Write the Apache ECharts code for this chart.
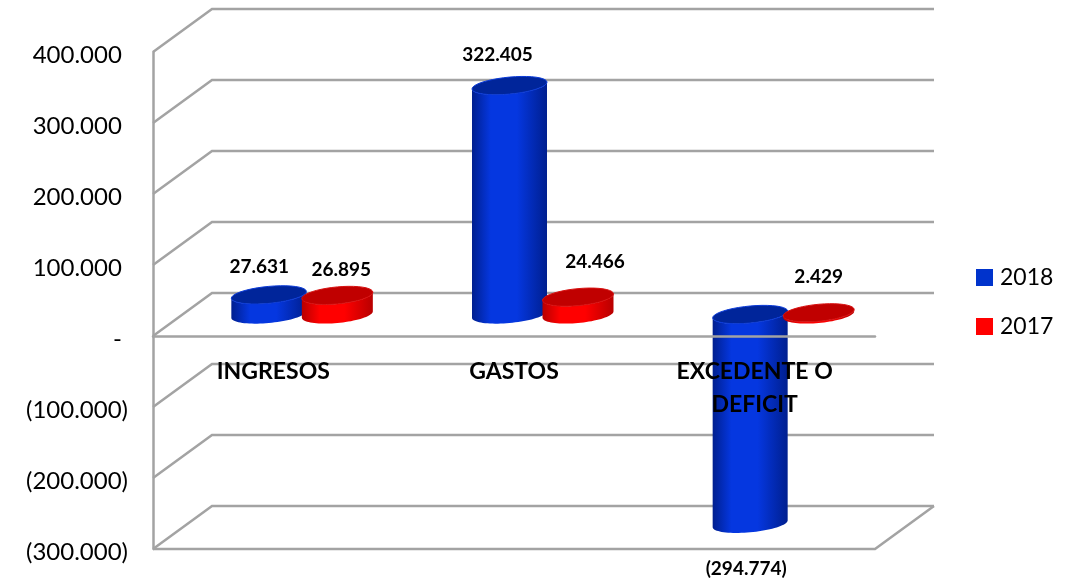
<!DOCTYPE html>
<html><head><meta charset="utf-8">
<style>html,body{margin:0;padding:0;background:#fff}#c{width:1069px;height:580px}</style>
<script src="https://cdn.jsdelivr.net/npm/echarts@6/dist/echarts.min.js"></script>
</head><body><div id="c"></div>
<script>
const categories = ['INGRESOS', 'GASTOS', 'EXCEDENTE O\nDEFICIT'];
const values2018 = [27631, 322405, -294774];
const values2017 = [26895, 24466, 2429];
const tickValues = [-300000, -200000, -100000, 0, 100000, 200000, 300000, 400000];
const tickLabels = {'-300000':'(300.000)','-200000':'(200.000)','-100000':'(100.000)','0':'-\u00a0','100000':'100.000\u00a0','200000':'200.000\u00a0','300000':'300.000\u00a0','400000':'400.000\u00a0'};

// layout of the oblique projection
const DEPTH_X = 59, DEPTH_Y = -43, SHEAR = 0.09, CAP_RY = 8.5;
const GRID_COLOR = '#a3a3a3', FONT = 'Lato, "Open Sans", sans-serif';
const look2018 = {off:-34, w:75, edge:'#001f8f', mid:'#0537e0', cap:'#00259a', capEdge:'#0a3ad8',
  lab:[[-9.5,-28],[-12,-31],[-4,45]]};
const look2017 = {off:34.5, w:71, edge:'#b80000', mid:'#ff0000', cap:'#c00000', capEdge:'#d81010',
  lab:[[4,-26],[17,-35],[0,-36]]};

function fmt(v){
  const s = Math.abs(v).toString().replace(/\B(?=(\d{3})+$)/g,'.');
  return v < 0 ? '(' + s + ')' : s;
}
function arc(cx, cy, rx, from, to){
  const pts = [];
  for (let i = 0; i <= 40; i++){
    const t = from + (to - from) * i / 40, c = Math.cos(t);
    pts.push([cx + rx * c, cy + CAP_RY * Math.sin(t) - SHEAR * rx * c]);
  }
  return pts;
}
function cylinder(look){
  return function(params, api){
    const i = api.value(0), v = api.value(1);
    const base = api.coord([i, 0]), end = api.coord([i, v]);
    const cx = base[0] + DEPTH_X / 2 + look.off, rx = look.w / 2;
    const y0 = base[1] + DEPTH_Y / 2, y1 = end[1] + DEPTH_Y / 2;
    const top = Math.min(y0, y1), bot = Math.max(y0, y1);
    const body = arc(cx, bot, rx, Math.PI, 0).concat(arc(cx, top, rx, 0, Math.PI));
    const grad = {type:'linear', x:0, y:0, x2:1, y2:0, colorStops:[
      {offset:0, color:look.edge},{offset:0.25, color:look.mid},{offset:0.6, color:look.mid},{offset:1, color:look.edge}]};
    const lab = look.lab[i];
    return {type:'group', children:[
      {type:'polygon', shape:{points:body}, style:{fill:grad}},
      {type:'polygon', shape:{points:arc(cx, top, rx, 0, Math.PI * 2)},
        style:{fill:look.cap, stroke:look.capEdge, lineWidth:1}},
      {type:'text', x:cx + lab[0], y:y1 + lab[1], style:{text:fmt(v), textAlign:'center',
        textVerticalAlign:'middle', fill:'#000', font:'bold 19px ' + FONT}}
    ]};
  };
}
function wall(params, api){
  const v = api.value(1), cs = params.coordSys, y = api.coord([0, v])[1];
  const x0 = cs.x, x1 = cs.x + cs.width;
  const st = {stroke:GRID_COLOR, lineWidth:2.5, fill:null};
  const pts = [[x0, y], [x0 + DEPTH_X, y + DEPTH_Y], [x1 + DEPTH_X, y + DEPTH_Y]];
  const kids = [{type:'polyline', shape:{points:pts}, style:st}];
  if (v === tickValues[0]) {
    kids.push({type:'polyline', shape:{points:[[x0, y], [x1, y], [x1 + DEPTH_X, y + DEPTH_Y]]}, style:st});
  }
  return {type:'group', children:kids};
}

const chart = echarts.init(document.getElementById('c'), null, {renderer:'canvas'});
chart.setOption({
  animation:false,
  backgroundColor:'#fff',
  grid:{left:153, top:52, width:722, height:497, outerBoundsMode:'none', containLabel:false},
  legend:{
    data:['2018','2017'], orient:'vertical', left:971, top:261, itemGap:26,
    itemWidth:17, itemHeight:17, icon:'rect', selectedMode:false,
    textStyle:{fontFamily:FONT, fontSize:23, color:'#000', padding:[0,0,0,2]}
  },
  xAxis:{
    type:'category', data:categories, z:10,
    axisTick:{show:false}, splitLine:{show:false},
    axisLine:{onZero:true, lineStyle:{color:GRID_COLOR, width:2.5}},
    axisLabel:{margin:-194, interval:0, color:'#000', fontFamily:FONT, fontWeight:'bold',
      fontSize:23, lineHeight:33, verticalAlign:'top'}
  },
  yAxis:{
    type:'value', min:-300000, max:400000, interval:100000,
    splitLine:{show:false}, axisTick:{show:false},
    axisLine:{show:true, lineStyle:{color:GRID_COLOR, width:2.5}},
    axisLabel:{margin:25, color:'#000', fontFamily:FONT, fontSize:24, verticalAlign:'top', lineHeight:6,
      formatter:v => tickLabels[String(v)]}
  },
  series:[
    {name:'walls', type:'custom', z:1, silent:true, renderItem:wall, clip:false,
      data:tickValues.map(v => [0, v]), encode:{x:0, y:1}},
    {name:'2018', type:'custom', z:2, renderItem:cylinder(look2018), clip:false,
      itemStyle:{color:'#0033cc'},
      data:values2018.map((v, i) => [i, v]), encode:{x:0, y:1}},
    {name:'2017', type:'custom', z:3, renderItem:cylinder(look2017), clip:false,
      itemStyle:{color:'#ff0000'},
      data:values2017.map((v, i) => [i, v]), encode:{x:0, y:1}}
  ]
});
</script></body></html>
